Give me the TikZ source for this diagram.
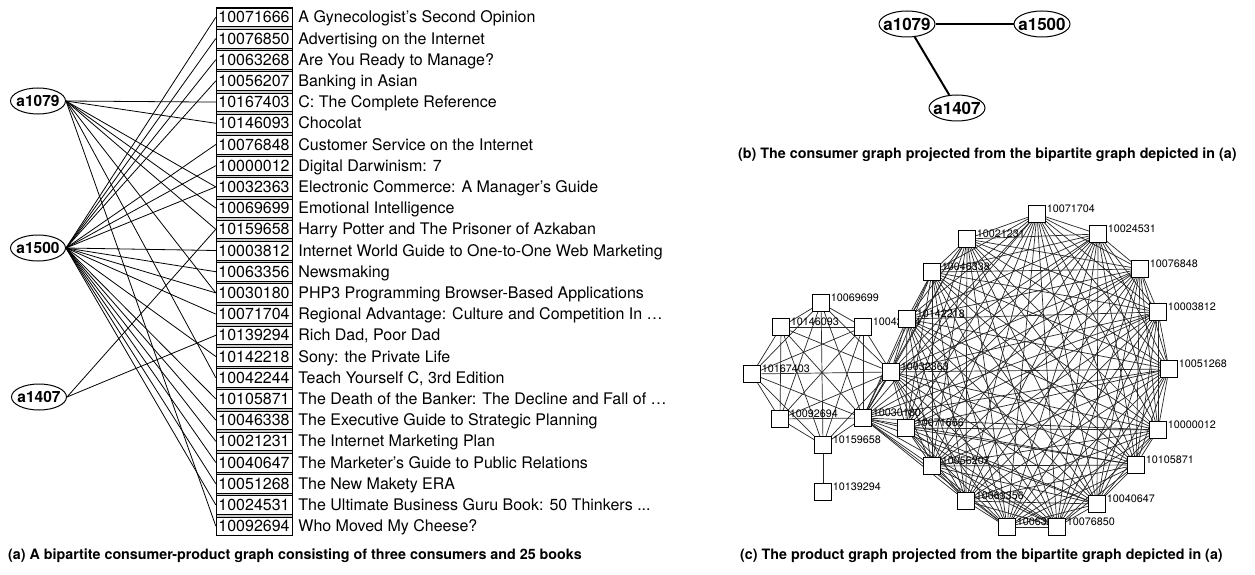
\documentclass[tikz,border=0pt]{standalone}
\usepackage{fontspec}
\setmainfont{TeX Gyre Heros}
\usetikzlibrary{positioning,shapes.geometric}
\pgfdeclarelayer{edges}
\pgfsetlayers{edges,main}

\tikzset{
  consumer/.style={draw, ellipse, line width=1pt, inner sep=0pt,
    inner xsep=-6pt, minimum width=55pt, minimum height=26pt,
    font=\fontsize{15.5}{17}\selectfont\bfseries},
  bookid/.style={draw, fill=white, inner sep=0pt, minimum width=76pt,
    minimum height=18.6pt, font=\fontsize{16}{18}\selectfont},
  booktitle/.style={inner sep=0pt, font=\fontsize{16}{18}\selectfont},
  bipedge/.style={line width=0.8pt},
  product/.style={draw, fill=white, inner sep=0pt, minimum size=17pt},
  prodlabel/.style={anchor=west, inner sep=1pt, yshift=5pt,
    font=\fontsize{10.8}{12}\selectfont},
  clique/.style={black!85, line width=0.7pt},
  caption/.style={inner sep=0pt, anchor=west,
    font=\fontsize{14.3}{16}\selectfont\bfseries}
}

\newcommand{\bookclique}{10071704,10024531,10076848,10003812,10051268,10000012,
  10105871,10040647,10076850,10063268,10063356,10056207,10071666,10030180,
  10032363,10142218,10046338,10021231}
\newcommand{\smallclique}{10069699,10146093,10042244,10167403,10032363,
  10092694,10030180,10159658}

\begin{document}
\begin{tikzpicture}[x=1pt, y=-1pt, node distance=6pt]
  \useasboundingbox (0,0) rectangle (1255,575);

  % bipartite graph
  \node[consumer] (a1079) at (38,101) {a1079};
  \node[consumer] (a1500) at (38,248) {a1500};
  \node[consumer] (a1407) at (39,397) {a1407};
  \filldraw[fill=black!20] (216,6.8) rectangle (292,535.6);
  \foreach \id/\title [count=\i] in {
    10071666/A Gynecologist’s Second Opinion,
    10076850/Advertising on the Internet,
    10063268/Are You Ready to Manage?,
    10056207/Banking in Asian,
    10167403/C: The Complete Reference,
    10146093/Chocolat,
    10076848/Customer Service on the Internet,
    10000012/Digital Darwinism: 7,
    10032363/Electronic Commerce: A Manager’s Guide,
    10069699/Emotional Intelligence,
    10159658/Harry Potter and The Prisoner of Azkaban,
    10003812/Internet World Guide to One-to-One Web Marketing,
    10063356/Newsmaking,
    10030180/PHP3 Programming Browser-Based Applications,
    10071704/Regional Advantage: Culture and Competition In …,
    10139294/{Rich Dad, Poor Dad},
    10142218/Sony: the Private Life,
    10042244/{Teach Yourself C, 3rd Edition},
    10105871/The Death of the Banker: The Decline and Fall of …,
    10046338/The Executive Guide to Strategic Planning,
    10021231/The Internet Marketing Plan,
    10040647/The Marketer’s Guide to Public Relations,
    10051268/The New Makety ERA,
    10024531/{The Ultimate Business Guru Book: 50 Thinkers {...}},
    10092694/Who Moved My Cheese?} {
    \node[bookid] (b\id) at (254,{17.3+(\i-1)*21.2}) {\id};
    \node[booktitle, right = 6pt of b\id.base east, anchor=base west]
      (t\id) {\title};
  }
  \foreach \id in {10167403,10146093,10032363,10069699,10159658,10030180,
    10042244,10092694}
    \draw[bipedge] (a1079.east) -- (b\id.west);
  \foreach \id in \bookclique
    \draw[bipedge] (a1500.east) -- (b\id.west);
  \foreach \id in {10159658,10139294}
    \draw[bipedge] (a1407.east) -- (b\id.west);
  \node[caption] (capA) at (8,556)
    {(a) A bipartite consumer-product graph consisting of three consumers and 25 books};

  % consumer graph
  \node[consumer, inner xsep=-8pt, minimum width=56pt, minimum height=26pt,
    font=\fontsize{17}{18}\selectfont\bfseries] (g1079) at (907,24) {a1079};
  \node[consumer, inner xsep=-8pt, minimum width=56pt, minimum height=26pt,
    font=\fontsize{17}{18}\selectfont\bfseries] (g1500) at (1042,24) {a1500};
  \node[consumer, inner xsep=-8pt, minimum width=56pt, minimum height=26pt,
    font=\fontsize{17}{18}\selectfont\bfseries] (g1407) at (957,108) {a1407};
  \draw[line width=2pt] (g1079) -- (g1500);
  \draw[line width=2pt] (g1079) -- (g1407);
  \node[caption] (capB) at (738,155)
    {(b) The consumer graph projected from the bipartite graph depicted in (a)};

  % product graph
  \foreach \id/\px/\py in {
    10069699/821/303, 10146093/781/327, 10042244/863/327, 10142218/907/319,
    10046338/932/272, 10021231/967/239, 10167403/752/374, 10032363/891/372,
    10092694/780/419, 10030180/863/418, 10159658/823/445, 10139294/823/492,
    10071666/906/428, 10056207/932/466, 10063356/966/501, 10063268/1007/527,
    10076850/1057/527, 10040647/1097/504, 10105871/1136/465, 10000012/1158/430,
    10051268/1169/369, 10003812/1158/312, 10076848/1140/269, 10024531/1098/234,
    10071704/1037/214}
    \node[product, label={[prodlabel]east:\id}] (p\id) at (\px,\py) {};
  \begin{pgfonlayer}{edges}
    \foreach \u [count=\i] in \bookclique
      \foreach \v [count=\j] in \bookclique
        {\ifnum\i<\j \draw[clique] (p\u) -- (p\v); \fi}
    \foreach \u [count=\i] in \smallclique
      \foreach \v [count=\j] in \smallclique
        {\ifnum\i<\j \draw[clique] (p\u) -- (p\v); \fi}
    \draw[clique] (p10159658) -- (p10139294);
  \end{pgfonlayer}
  \node[caption] (capC) at (740,556)
    {(c) The product graph projected from the bipartite graph depicted in (a)};
\end{tikzpicture}
\end{document}
